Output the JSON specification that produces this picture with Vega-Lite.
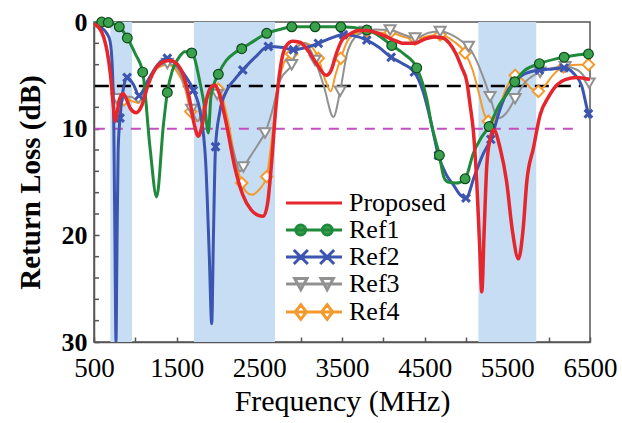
{
  "$schema": "https://vega.github.io/schema/vega-lite/v6.json",
  "width": 496,
  "height": 320,
  "autosize": {"type": "none"},
  "padding": {"left": 94, "top": 22, "right": 32, "bottom": 81},
  "background": "white",
  "config": {
    "view": {"stroke": "#555555", "strokeWidth": 1.5},
    "font": "Liberation Serif",
    "axis": {"domainColor": "#555555", "domainWidth": 1.5, "tickColor": "#555555", "tickWidth": 1.5, "grid": false, "labelFont": "Liberation Serif", "titleFont": "Liberation Serif", "labelColor": "black", "titleColor": "black", "labelOverlap": false}
  },
  "datasets": {
    "bands": [{"a": 698, "b": 960}, {"a": 1710, "b": 2690}, {"a": 5150, "b": 5850}],
    "refs": [{"v": 6, "x1": 510, "x2": 6380, "k": "a"}, {"v": 10, "x1": 510, "x2": 6380, "k": "b"}],
    "minor": [{"v": 2}, {"v": 4}, {"v": 6}, {"v": 8}, {"v": 12}, {"v": 14}, {"v": 16}, {"v": 18}, {"v": 22}, {"v": 24}, {"v": 26}, {"v": 28}],
    "curves": [
      {"s": "Proposed", "f": 500, "r": 0.2, "m": 0},
      {"s": "Proposed", "f": 560, "r": 0.5, "m": 0},
      {"s": "Proposed", "f": 620, "r": 1.5, "m": 0},
      {"s": "Proposed", "f": 660, "r": 2.8, "m": 0},
      {"s": "Proposed", "f": 700, "r": 5.0, "m": 0},
      {"s": "Proposed", "f": 730, "r": 7.5, "m": 0},
      {"s": "Proposed", "f": 755, "r": 9.3, "m": 0},
      {"s": "Proposed", "f": 780, "r": 8.5, "m": 0},
      {"s": "Proposed", "f": 810, "r": 7.2, "m": 0},
      {"s": "Proposed", "f": 850, "r": 6.7, "m": 0},
      {"s": "Proposed", "f": 890, "r": 7.2, "m": 0},
      {"s": "Proposed", "f": 940, "r": 8.1, "m": 0},
      {"s": "Proposed", "f": 1010, "r": 8.5, "m": 0},
      {"s": "Proposed", "f": 1080, "r": 7.8, "m": 0},
      {"s": "Proposed", "f": 1150, "r": 6.0, "m": 0},
      {"s": "Proposed", "f": 1250, "r": 4.3, "m": 0},
      {"s": "Proposed", "f": 1350, "r": 3.7, "m": 0},
      {"s": "Proposed", "f": 1420, "r": 3.6, "m": 0},
      {"s": "Proposed", "f": 1500, "r": 3.9, "m": 0},
      {"s": "Proposed", "f": 1580, "r": 5.0, "m": 0},
      {"s": "Proposed", "f": 1650, "r": 7.0, "m": 0},
      {"s": "Proposed", "f": 1710, "r": 9.5, "m": 0},
      {"s": "Proposed", "f": 1762, "r": 10.7, "m": 0},
      {"s": "Proposed", "f": 1810, "r": 9.6, "m": 0},
      {"s": "Proposed", "f": 1860, "r": 7.3, "m": 0},
      {"s": "Proposed", "f": 1915, "r": 6.1, "m": 0},
      {"s": "Proposed", "f": 1962, "r": 5.9, "m": 0},
      {"s": "Proposed", "f": 2010, "r": 6.6, "m": 0},
      {"s": "Proposed", "f": 2100, "r": 9.5, "m": 0},
      {"s": "Proposed", "f": 2200, "r": 13.5, "m": 0},
      {"s": "Proposed", "f": 2300, "r": 16.2, "m": 0},
      {"s": "Proposed", "f": 2400, "r": 17.6, "m": 0},
      {"s": "Proposed", "f": 2480, "r": 18.1, "m": 0},
      {"s": "Proposed", "f": 2550, "r": 18.2, "m": 0},
      {"s": "Proposed", "f": 2600, "r": 17.0, "m": 0},
      {"s": "Proposed", "f": 2650, "r": 13.0, "m": 0},
      {"s": "Proposed", "f": 2700, "r": 8.0, "m": 0},
      {"s": "Proposed", "f": 2760, "r": 4.0, "m": 0},
      {"s": "Proposed", "f": 2820, "r": 2.3, "m": 0},
      {"s": "Proposed", "f": 2900, "r": 1.8, "m": 0},
      {"s": "Proposed", "f": 2990, "r": 1.9, "m": 0},
      {"s": "Proposed", "f": 3100, "r": 2.8, "m": 0},
      {"s": "Proposed", "f": 3200, "r": 4.0, "m": 0},
      {"s": "Proposed", "f": 3310, "r": 5.0, "m": 0},
      {"s": "Proposed", "f": 3370, "r": 4.5, "m": 0},
      {"s": "Proposed", "f": 3430, "r": 3.0, "m": 0},
      {"s": "Proposed", "f": 3500, "r": 1.7, "m": 0},
      {"s": "Proposed", "f": 3600, "r": 1.1, "m": 0},
      {"s": "Proposed", "f": 3700, "r": 0.8, "m": 0},
      {"s": "Proposed", "f": 3800, "r": 0.8, "m": 0},
      {"s": "Proposed", "f": 3950, "r": 1.1, "m": 0},
      {"s": "Proposed", "f": 4100, "r": 1.6, "m": 0},
      {"s": "Proposed", "f": 4250, "r": 2.0, "m": 0},
      {"s": "Proposed", "f": 4380, "r": 2.0, "m": 0},
      {"s": "Proposed", "f": 4500, "r": 1.6, "m": 0},
      {"s": "Proposed", "f": 4620, "r": 1.4, "m": 0},
      {"s": "Proposed", "f": 4720, "r": 1.5, "m": 0},
      {"s": "Proposed", "f": 4800, "r": 2.0, "m": 0},
      {"s": "Proposed", "f": 4880, "r": 3.0, "m": 0},
      {"s": "Proposed", "f": 4950, "r": 4.3, "m": 0},
      {"s": "Proposed", "f": 5010, "r": 5.6, "m": 0},
      {"s": "Proposed", "f": 5050, "r": 7.8, "m": 0},
      {"s": "Proposed", "f": 5090, "r": 10.3, "m": 0},
      {"s": "Proposed", "f": 5130, "r": 15.0, "m": 0},
      {"s": "Proposed", "f": 5165, "r": 21.0, "m": 0},
      {"s": "Proposed", "f": 5191, "r": 25.3, "m": 0},
      {"s": "Proposed", "f": 5220, "r": 19.5, "m": 0},
      {"s": "Proposed", "f": 5252, "r": 13.4, "m": 0},
      {"s": "Proposed", "f": 5291, "r": 11.0, "m": 0},
      {"s": "Proposed", "f": 5335, "r": 10.1, "m": 0},
      {"s": "Proposed", "f": 5412, "r": 11.8, "m": 0},
      {"s": "Proposed", "f": 5492, "r": 15.0, "m": 0},
      {"s": "Proposed", "f": 5560, "r": 19.5, "m": 0},
      {"s": "Proposed", "f": 5634, "r": 22.2, "m": 0},
      {"s": "Proposed", "f": 5690, "r": 19.5, "m": 0},
      {"s": "Proposed", "f": 5735, "r": 15.0, "m": 0},
      {"s": "Proposed", "f": 5816, "r": 11.8, "m": 0},
      {"s": "Proposed", "f": 5897, "r": 8.7, "m": 0},
      {"s": "Proposed", "f": 6000, "r": 7.0, "m": 0},
      {"s": "Proposed", "f": 6099, "r": 5.9, "m": 0},
      {"s": "Proposed", "f": 6200, "r": 5.4, "m": 0},
      {"s": "Proposed", "f": 6341, "r": 5.2, "m": 0},
      {"s": "Proposed", "f": 6500, "r": 5.4, "m": 0},

      {"s": "Ref1", "f": 500, "r": 0.1, "m": 0},
      {"s": "Ref1", "f": 593, "r": 0.0, "m": 1},
      {"s": "Ref1", "f": 673, "r": 0.05, "m": 1},
      {"s": "Ref1", "f": 806, "r": 0.45, "m": 1},
      {"s": "Ref1", "f": 903, "r": 1.5, "m": 1},
      {"s": "Ref1", "f": 1000, "r": 3.0, "m": 0},
      {"s": "Ref1", "f": 1089, "r": 4.7, "m": 1},
      {"s": "Ref1", "f": 1178, "r": 11.8, "m": 0},
      {"s": "Ref1", "f": 1258, "r": 16.4, "m": 0},
      {"s": "Ref1", "f": 1339, "r": 9.7, "m": 0},
      {"s": "Ref1", "f": 1387, "r": 6.6, "m": 1},
      {"s": "Ref1", "f": 1450, "r": 4.5, "m": 0},
      {"s": "Ref1", "f": 1530, "r": 3.3, "m": 0},
      {"s": "Ref1", "f": 1600, "r": 2.8, "m": 0},
      {"s": "Ref1", "f": 1682, "r": 2.9, "m": 1},
      {"s": "Ref1", "f": 1783, "r": 5.7, "m": 0},
      {"s": "Ref1", "f": 1843, "r": 8.2, "m": 0},
      {"s": "Ref1", "f": 1883, "r": 10.4, "m": 0},
      {"s": "Ref1", "f": 1916, "r": 6.9, "m": 0},
      {"s": "Ref1", "f": 2004, "r": 4.9, "m": 1},
      {"s": "Ref1", "f": 2100, "r": 3.6, "m": 0},
      {"s": "Ref1", "f": 2200, "r": 2.9, "m": 0},
      {"s": "Ref1", "f": 2287, "r": 2.5, "m": 1},
      {"s": "Ref1", "f": 2450, "r": 1.7, "m": 0},
      {"s": "Ref1", "f": 2589, "r": 1.06, "m": 1},
      {"s": "Ref1", "f": 2750, "r": 0.7, "m": 0},
      {"s": "Ref1", "f": 2892, "r": 0.45, "m": 1},
      {"s": "Ref1", "f": 3174, "r": 0.45, "m": 1},
      {"s": "Ref1", "f": 3485, "r": 0.45, "m": 1},
      {"s": "Ref1", "f": 3800, "r": 0.75, "m": 1},
      {"s": "Ref1", "f": 3950, "r": 1.3, "m": 0},
      {"s": "Ref1", "f": 4102, "r": 2.2, "m": 1},
      {"s": "Ref1", "f": 4250, "r": 3.0, "m": 0},
      {"s": "Ref1", "f": 4404, "r": 4.3, "m": 1},
      {"s": "Ref1", "f": 4525, "r": 7.2, "m": 0},
      {"s": "Ref1", "f": 4585, "r": 9.7, "m": 0},
      {"s": "Ref1", "f": 4678, "r": 12.5, "m": 1},
      {"s": "Ref1", "f": 4730, "r": 14.5, "m": 0},
      {"s": "Ref1", "f": 4780, "r": 15.0, "m": 0},
      {"s": "Ref1", "f": 4880, "r": 15.1, "m": 0},
      {"s": "Ref1", "f": 4989, "r": 14.7, "m": 1},
      {"s": "Ref1", "f": 5089, "r": 12.3, "m": 0},
      {"s": "Ref1", "f": 5180, "r": 10.9, "m": 0},
      {"s": "Ref1", "f": 5280, "r": 9.8, "m": 1},
      {"s": "Ref1", "f": 5400, "r": 7.8, "m": 0},
      {"s": "Ref1", "f": 5492, "r": 6.8, "m": 0},
      {"s": "Ref1", "f": 5590, "r": 5.6, "m": 1},
      {"s": "Ref1", "f": 5700, "r": 4.6, "m": 0},
      {"s": "Ref1", "f": 5888, "r": 3.9, "m": 1},
      {"s": "Ref1", "f": 6187, "r": 3.3, "m": 1},
      {"s": "Ref1", "f": 6481, "r": 3.0, "m": 1},
      {"s": "Ref1", "f": 6500, "r": 3.0, "m": 0},

      {"s": "Ref2", "f": 500, "r": 0.2, "m": 0},
      {"s": "Ref2", "f": 580, "r": 0.5, "m": 0},
      {"s": "Ref2", "f": 650, "r": 1.0, "m": 0},
      {"s": "Ref2", "f": 694, "r": 1.8, "m": 0},
      {"s": "Ref2", "f": 720, "r": 4.0, "m": 0},
      {"s": "Ref2", "f": 740, "r": 10.0, "m": 0},
      {"s": "Ref2", "f": 755, "r": 22.0, "m": 0},
      {"s": "Ref2", "f": 766, "r": 30.0, "m": 0},
      {"s": "Ref2", "f": 777, "r": 22.0, "m": 0},
      {"s": "Ref2", "f": 792, "r": 12.0, "m": 0},
      {"s": "Ref2", "f": 815, "r": 9.0, "m": 1},
      {"s": "Ref2", "f": 850, "r": 6.5, "m": 0},
      {"s": "Ref2", "f": 900, "r": 5.2, "m": 1},
      {"s": "Ref2", "f": 980, "r": 5.9, "m": 0},
      {"s": "Ref2", "f": 1045, "r": 6.9, "m": 1},
      {"s": "Ref2", "f": 1150, "r": 5.5, "m": 0},
      {"s": "Ref2", "f": 1270, "r": 4.0, "m": 0},
      {"s": "Ref2", "f": 1387, "r": 3.4, "m": 1},
      {"s": "Ref2", "f": 1500, "r": 4.0, "m": 0},
      {"s": "Ref2", "f": 1600, "r": 5.0, "m": 0},
      {"s": "Ref2", "f": 1702, "r": 6.4, "m": 1},
      {"s": "Ref2", "f": 1783, "r": 8.4, "m": 0},
      {"s": "Ref2", "f": 1850, "r": 13.0, "m": 0},
      {"s": "Ref2", "f": 1895, "r": 22.0, "m": 0},
      {"s": "Ref2", "f": 1924, "r": 28.3, "m": 0},
      {"s": "Ref2", "f": 1945, "r": 20.0, "m": 0},
      {"s": "Ref2", "f": 1970, "r": 11.7, "m": 1},
      {"s": "Ref2", "f": 2020, "r": 8.5, "m": 0},
      {"s": "Ref2", "f": 2100, "r": 6.5, "m": 0},
      {"s": "Ref2", "f": 2200, "r": 5.4, "m": 0},
      {"s": "Ref2", "f": 2300, "r": 4.5, "m": 1},
      {"s": "Ref2", "f": 2450, "r": 3.3, "m": 0},
      {"s": "Ref2", "f": 2609, "r": 2.3, "m": 1},
      {"s": "Ref2", "f": 2780, "r": 2.4, "m": 0},
      {"s": "Ref2", "f": 2912, "r": 2.6, "m": 1},
      {"s": "Ref2", "f": 3060, "r": 2.4, "m": 0},
      {"s": "Ref2", "f": 3214, "r": 2.0, "m": 1},
      {"s": "Ref2", "f": 3370, "r": 1.5, "m": 0},
      {"s": "Ref2", "f": 3517, "r": 1.2, "m": 1},
      {"s": "Ref2", "f": 3650, "r": 1.3, "m": 0},
      {"s": "Ref2", "f": 3800, "r": 1.7, "m": 1},
      {"s": "Ref2", "f": 3950, "r": 2.4, "m": 0},
      {"s": "Ref2", "f": 4095, "r": 3.3, "m": 1},
      {"s": "Ref2", "f": 4230, "r": 3.9, "m": 0},
      {"s": "Ref2", "f": 4375, "r": 4.7, "m": 1},
      {"s": "Ref2", "f": 4480, "r": 6.5, "m": 0},
      {"s": "Ref2", "f": 4580, "r": 9.5, "m": 0},
      {"s": "Ref2", "f": 4666, "r": 12.5, "m": 1},
      {"s": "Ref2", "f": 4760, "r": 14.3, "m": 0},
      {"s": "Ref2", "f": 4850, "r": 15.3, "m": 0},
      {"s": "Ref2", "f": 4930, "r": 16.2, "m": 0},
      {"s": "Ref2", "f": 5000, "r": 16.5, "m": 1},
      {"s": "Ref2", "f": 5100, "r": 14.5, "m": 0},
      {"s": "Ref2", "f": 5200, "r": 12.5, "m": 0},
      {"s": "Ref2", "f": 5300, "r": 11.0, "m": 1},
      {"s": "Ref2", "f": 5420, "r": 8.0, "m": 0},
      {"s": "Ref2", "f": 5500, "r": 6.5, "m": 0},
      {"s": "Ref2", "f": 5590, "r": 5.6, "m": 1},
      {"s": "Ref2", "f": 5700, "r": 4.9, "m": 0},
      {"s": "Ref2", "f": 5888, "r": 4.5, "m": 1},
      {"s": "Ref2", "f": 6050, "r": 4.4, "m": 0},
      {"s": "Ref2", "f": 6187, "r": 4.3, "m": 1},
      {"s": "Ref2", "f": 6300, "r": 4.8, "m": 0},
      {"s": "Ref2", "f": 6400, "r": 6.0, "m": 0},
      {"s": "Ref2", "f": 6481, "r": 8.6, "m": 1},
      {"s": "Ref2", "f": 6500, "r": 9.0, "m": 0},

      {"s": "Ref3", "f": 500, "r": 0.3, "m": 0},
      {"s": "Ref3", "f": 600, "r": 1.0, "m": 0},
      {"s": "Ref3", "f": 680, "r": 3.5, "m": 0},
      {"s": "Ref3", "f": 740, "r": 6.5, "m": 0},
      {"s": "Ref3", "f": 775, "r": 7.2, "m": 1},
      {"s": "Ref3", "f": 820, "r": 7.8, "m": 0},
      {"s": "Ref3", "f": 870, "r": 7.0, "m": 0},
      {"s": "Ref3", "f": 950, "r": 7.0, "m": 0},
      {"s": "Ref3", "f": 1040, "r": 7.5, "m": 0},
      {"s": "Ref3", "f": 1150, "r": 5.5, "m": 0},
      {"s": "Ref3", "f": 1270, "r": 4.2, "m": 0},
      {"s": "Ref3", "f": 1387, "r": 3.9, "m": 1},
      {"s": "Ref3", "f": 1500, "r": 4.3, "m": 0},
      {"s": "Ref3", "f": 1600, "r": 6.0, "m": 0},
      {"s": "Ref3", "f": 1680, "r": 8.2, "m": 1},
      {"s": "Ref3", "f": 1760, "r": 9.3, "m": 0},
      {"s": "Ref3", "f": 1830, "r": 8.0, "m": 0},
      {"s": "Ref3", "f": 1900, "r": 6.6, "m": 0},
      {"s": "Ref3", "f": 1990, "r": 6.8, "m": 1},
      {"s": "Ref3", "f": 2100, "r": 9.5, "m": 0},
      {"s": "Ref3", "f": 2200, "r": 12.5, "m": 0},
      {"s": "Ref3", "f": 2267, "r": 14.0, "m": 0},
      {"s": "Ref3", "f": 2307, "r": 13.6, "m": 1},
      {"s": "Ref3", "f": 2400, "r": 12.5, "m": 0},
      {"s": "Ref3", "f": 2500, "r": 11.3, "m": 0},
      {"s": "Ref3", "f": 2569, "r": 10.4, "m": 1},
      {"s": "Ref3", "f": 2650, "r": 8.5, "m": 0},
      {"s": "Ref3", "f": 2750, "r": 5.5, "m": 0},
      {"s": "Ref3", "f": 2892, "r": 4.0, "m": 1},
      {"s": "Ref3", "f": 2980, "r": 2.2, "m": 0},
      {"s": "Ref3", "f": 3050, "r": 2.0, "m": 0},
      {"s": "Ref3", "f": 3174, "r": 3.6, "m": 1},
      {"s": "Ref3", "f": 3280, "r": 6.0, "m": 0},
      {"s": "Ref3", "f": 3396, "r": 8.9, "m": 0},
      {"s": "Ref3", "f": 3477, "r": 6.5, "m": 1},
      {"s": "Ref3", "f": 3560, "r": 3.0, "m": 0},
      {"s": "Ref3", "f": 3650, "r": 1.5, "m": 0},
      {"s": "Ref3", "f": 3780, "r": 0.9, "m": 1},
      {"s": "Ref3", "f": 3900, "r": 0.7, "m": 0},
      {"s": "Ref3", "f": 4082, "r": 0.75, "m": 1},
      {"s": "Ref3", "f": 4250, "r": 1.2, "m": 0},
      {"s": "Ref3", "f": 4384, "r": 1.5, "m": 1},
      {"s": "Ref3", "f": 4550, "r": 1.0, "m": 0},
      {"s": "Ref3", "f": 4687, "r": 0.9, "m": 1},
      {"s": "Ref3", "f": 4850, "r": 1.3, "m": 0},
      {"s": "Ref3", "f": 4950, "r": 1.8, "m": 0},
      {"s": "Ref3", "f": 5030, "r": 2.3, "m": 1},
      {"s": "Ref3", "f": 5120, "r": 3.5, "m": 0},
      {"s": "Ref3", "f": 5200, "r": 5.0, "m": 0},
      {"s": "Ref3", "f": 5291, "r": 7.0, "m": 1},
      {"s": "Ref3", "f": 5350, "r": 8.5, "m": 0},
      {"s": "Ref3", "f": 5400, "r": 9.0, "m": 0},
      {"s": "Ref3", "f": 5480, "r": 8.6, "m": 0},
      {"s": "Ref3", "f": 5594, "r": 7.2, "m": 1},
      {"s": "Ref3", "f": 5700, "r": 5.8, "m": 0},
      {"s": "Ref3", "f": 5897, "r": 4.7, "m": 1},
      {"s": "Ref3", "f": 6050, "r": 4.3, "m": 0},
      {"s": "Ref3", "f": 6199, "r": 4.2, "m": 1},
      {"s": "Ref3", "f": 6350, "r": 4.5, "m": 0},
      {"s": "Ref3", "f": 6490, "r": 5.75, "m": 1},

      {"s": "Ref4", "f": 500, "r": 0.3, "m": 0},
      {"s": "Ref4", "f": 600, "r": 1.0, "m": 0},
      {"s": "Ref4", "f": 680, "r": 3.5, "m": 0},
      {"s": "Ref4", "f": 740, "r": 6.5, "m": 0},
      {"s": "Ref4", "f": 790, "r": 7.8, "m": 0},
      {"s": "Ref4", "f": 863, "r": 7.3, "m": 1},
      {"s": "Ref4", "f": 950, "r": 7.4, "m": 0},
      {"s": "Ref4", "f": 1040, "r": 7.6, "m": 0},
      {"s": "Ref4", "f": 1150, "r": 5.8, "m": 0},
      {"s": "Ref4", "f": 1270, "r": 4.3, "m": 0},
      {"s": "Ref4", "f": 1390, "r": 4.0, "m": 0},
      {"s": "Ref4", "f": 1500, "r": 4.6, "m": 0},
      {"s": "Ref4", "f": 1600, "r": 6.2, "m": 0},
      {"s": "Ref4", "f": 1670, "r": 8.4, "m": 1},
      {"s": "Ref4", "f": 1750, "r": 9.3, "m": 0},
      {"s": "Ref4", "f": 1830, "r": 7.8, "m": 0},
      {"s": "Ref4", "f": 1920, "r": 6.6, "m": 0},
      {"s": "Ref4", "f": 2004, "r": 6.3, "m": 1},
      {"s": "Ref4", "f": 2100, "r": 8.5, "m": 0},
      {"s": "Ref4", "f": 2200, "r": 12.5, "m": 0},
      {"s": "Ref4", "f": 2287, "r": 15.1, "m": 1},
      {"s": "Ref4", "f": 2340, "r": 15.9, "m": 0},
      {"s": "Ref4", "f": 2408, "r": 16.2, "m": 0},
      {"s": "Ref4", "f": 2500, "r": 15.7, "m": 0},
      {"s": "Ref4", "f": 2589, "r": 14.5, "m": 1},
      {"s": "Ref4", "f": 2650, "r": 11.0, "m": 0},
      {"s": "Ref4", "f": 2720, "r": 6.5, "m": 0},
      {"s": "Ref4", "f": 2800, "r": 3.8, "m": 0},
      {"s": "Ref4", "f": 2892, "r": 3.0, "m": 1},
      {"s": "Ref4", "f": 2980, "r": 2.0, "m": 0},
      {"s": "Ref4", "f": 3060, "r": 2.0, "m": 0},
      {"s": "Ref4", "f": 3214, "r": 3.4, "m": 1},
      {"s": "Ref4", "f": 3300, "r": 5.5, "m": 0},
      {"s": "Ref4", "f": 3364, "r": 6.5, "m": 0},
      {"s": "Ref4", "f": 3420, "r": 5.0, "m": 0},
      {"s": "Ref4", "f": 3485, "r": 3.4, "m": 1},
      {"s": "Ref4", "f": 3580, "r": 1.6, "m": 0},
      {"s": "Ref4", "f": 3700, "r": 1.0, "m": 0},
      {"s": "Ref4", "f": 3800, "r": 0.9, "m": 1},
      {"s": "Ref4", "f": 3950, "r": 1.0, "m": 0},
      {"s": "Ref4", "f": 4082, "r": 1.0, "m": 1},
      {"s": "Ref4", "f": 4250, "r": 1.4, "m": 0},
      {"s": "Ref4", "f": 4384, "r": 1.6, "m": 1},
      {"s": "Ref4", "f": 4550, "r": 1.3, "m": 0},
      {"s": "Ref4", "f": 4687, "r": 1.2, "m": 1},
      {"s": "Ref4", "f": 4850, "r": 1.8, "m": 0},
      {"s": "Ref4", "f": 4989, "r": 2.9, "m": 1},
      {"s": "Ref4", "f": 5080, "r": 4.5, "m": 0},
      {"s": "Ref4", "f": 5160, "r": 6.8, "m": 0},
      {"s": "Ref4", "f": 5220, "r": 8.6, "m": 0},
      {"s": "Ref4", "f": 5271, "r": 9.3, "m": 1},
      {"s": "Ref4", "f": 5320, "r": 9.4, "m": 0},
      {"s": "Ref4", "f": 5400, "r": 8.0, "m": 0},
      {"s": "Ref4", "f": 5500, "r": 6.0, "m": 0},
      {"s": "Ref4", "f": 5594, "r": 5.0, "m": 1},
      {"s": "Ref4", "f": 5700, "r": 5.5, "m": 0},
      {"s": "Ref4", "f": 5800, "r": 6.3, "m": 0},
      {"s": "Ref4", "f": 5876, "r": 6.5, "m": 1},
      {"s": "Ref4", "f": 5950, "r": 6.0, "m": 0},
      {"s": "Ref4", "f": 6050, "r": 5.0, "m": 0},
      {"s": "Ref4", "f": 6179, "r": 4.2, "m": 1},
      {"s": "Ref4", "f": 6350, "r": 4.0, "m": 0},
      {"s": "Ref4", "f": 6481, "r": 4.0, "m": 1},
      {"s": "Ref4", "f": 6500, "r": 4.0, "m": 0}
    ]
  },
  "layer": [
    {
      "data": {"name": "bands"},
      "mark": {"type": "rect", "color": "#c7ddf3"},
      "encoding": {
        "x": {"field": "a", "type": "quantitative",
          "scale": {"domain": [500, 6500], "nice": false, "zero": false},
          "axis": {"values": [500, 1000, 1500, 2000, 2500, 3000, 3500, 4000, 4500, 5000, 5500, 6000, 6500],
            "labelExpr": "(datum.value - 500) % 1000 === 0 ? datum.label : ''",
            "format": "d", "tickSize": -5, "labelPadding": 18, "labelFontSize": 27, "labelFlush": false, "labelOverlap": false,
            "title": "Frequency (MHz)", "titleFontSize": 30, "titleFontWeight": "normal", "titlePadding": 5}},
        "x2": {"field": "b"}
      }
    },
    {
      "data": {"name": "minor"},
      "mark": {"type": "rule", "color": "#555555", "strokeWidth": 1.5},
      "encoding": {
        "y": {"field": "v", "type": "quantitative"},
        "x": {"datum": 500, "type": "quantitative"},
        "x2": {"datum": 560}
      }
    },
    {
      "data": {"name": "refs"},
      "transform": [{"filter": "datum.k === 'a'"}],
      "mark": {"type": "rule", "color": "black", "strokeWidth": 2.5, "strokeDash": [14, 8]},
      "encoding": {
        "y": {"field": "v", "type": "quantitative",
          "scale": {"domain": [0, 30], "reverse": true, "nice": false, "zero": false},
          "axis": {"values": [0, 10, 20, 30],
            "tickSize": -5, "labelPadding": 12, "labelFontSize": 26, "labelFontWeight": "bold", "labelFlush": false, "labelOverlap": false,
            "title": "Return Loss (dB)", "titleFontSize": 29, "titleFontWeight": "bold", "titlePadding": 16}},
        "x": {"field": "x1", "type": "quantitative"},
        "x2": {"field": "x2"}
      }
    },
    {
      "data": {"name": "refs"},
      "transform": [{"filter": "datum.k === 'b'"}],
      "mark": {"type": "rule", "color": "#c24fc0", "strokeWidth": 2, "strokeDash": [10, 8]},
      "encoding": {
        "y": {"field": "v", "type": "quantitative"},
        "x": {"field": "x1", "type": "quantitative"},
        "x2": {"field": "x2"}
      }
    },
    {
      "data": {"name": "curves"},
      "transform": [{"filter": "datum.s === 'Ref4'"}],
      "mark": {"type": "line", "color": "#f39a2c", "strokeWidth": 2, "interpolate": "monotone", "clip": true},
      "encoding": {"x": {"field": "f", "type": "quantitative"}, "y": {"field": "r", "type": "quantitative"}}
    },
    {
      "data": {"name": "curves"},
      "transform": [{"filter": "datum.s === 'Ref4' && datum.m === 1"}],
      "mark": {"type": "point", "shape": "diamond", "filled": true, "fill": "white", "stroke": "#f39a2c", "strokeWidth": 2, "size": 130, "opacity": 1},
      "encoding": {"x": {"field": "f", "type": "quantitative"}, "y": {"field": "r", "type": "quantitative"}}
    },
    {
      "data": {"name": "curves"},
      "transform": [{"filter": "datum.s === 'Ref3'"}],
      "mark": {"type": "line", "color": "#919191", "strokeWidth": 2, "interpolate": "monotone", "clip": true},
      "encoding": {"x": {"field": "f", "type": "quantitative"}, "y": {"field": "r", "type": "quantitative"}}
    },
    {
      "data": {"name": "curves"},
      "transform": [{"filter": "datum.s === 'Ref3' && datum.m === 1"}],
      "mark": {"type": "point", "shape": "triangle-down", "filled": true, "fill": "white", "stroke": "#919191", "strokeWidth": 2, "size": 120, "opacity": 1},
      "encoding": {"x": {"field": "f", "type": "quantitative"}, "y": {"field": "r", "type": "quantitative"}}
    },
    {
      "data": {"name": "curves"},
      "transform": [{"filter": "datum.s === 'Ref2'"}],
      "mark": {"type": "line", "color": "#3b55b0", "strokeWidth": 3, "interpolate": "monotone", "clip": true},
      "encoding": {"x": {"field": "f", "type": "quantitative"}, "y": {"field": "r", "type": "quantitative"}}
    },
    {
      "data": {"name": "curves"},
      "transform": [{"filter": "datum.s === 'Ref2' && datum.m === 1"}],
      "mark": {"type": "point", "shape": "M-1,-1L1,1M-1,1L1,-1", "filled": false, "stroke": "#3b55b0", "strokeWidth": 3, "size": 60, "opacity": 1},
      "encoding": {"x": {"field": "f", "type": "quantitative"}, "y": {"field": "r", "type": "quantitative"}}
    },
    {
      "data": {"name": "curves"},
      "transform": [{"filter": "datum.s === 'Ref1'"}],
      "mark": {"type": "line", "color": "#1f8a3b", "strokeWidth": 3, "interpolate": "monotone", "clip": true},
      "encoding": {"x": {"field": "f", "type": "quantitative"}, "y": {"field": "r", "type": "quantitative"}}
    },
    {
      "data": {"name": "curves"},
      "transform": [{"filter": "datum.s === 'Ref1' && datum.m === 1"}],
      "mark": {"type": "point", "shape": "circle", "filled": true, "fill": "#3aa24d", "stroke": "#0e4a1c", "strokeWidth": 1.2, "size": 95, "opacity": 1},
      "encoding": {"x": {"field": "f", "type": "quantitative"}, "y": {"field": "r", "type": "quantitative"}}
    },
    {
      "data": {"name": "curves"},
      "transform": [{"filter": "datum.s === 'Proposed'"}],
      "mark": {"type": "line", "color": "#e5262d", "strokeWidth": 3.5, "interpolate": "monotone", "clip": true},
      "encoding": {"x": {"field": "f", "type": "quantitative"}, "y": {"field": "r", "type": "quantitative"}}
    },
    {
      "data": {"name": "curves"},
      "transform": [{"filter": "datum.f === 500"}],
      "mark": {"type": "point", "opacity": 0, "filled": true, "strokeWidth": 3},
      "encoding": {
        "x": {"field": "f", "type": "quantitative"},
        "y": {"field": "r", "type": "quantitative"},
        "fill": {"field": "s", "type": "nominal",
          "scale": {"domain": ["Proposed", "Ref1", "Ref2", "Ref3", "Ref4"], "range": ["transparent", "#3aa24d", "transparent", "white", "white"]}},
        "stroke": {"field": "s", "type": "nominal",
          "scale": {"domain": ["Proposed", "Ref1", "Ref2", "Ref3", "Ref4"], "range": ["#e5262d", "#1f8a3b", "#3b55b0", "#919191", "#f39a2c"]}},
        "shape": {"field": "s", "type": "nominal",
          "scale": {"domain": ["Proposed", "Ref1", "Ref2", "Ref3", "Ref4"],
            "range": [
              "M-5.6,0H5.6",
              "M-5.6,0H5.6M-1.66,0A1,1 0 1,0 -3.66,0A1,1 0 1,0 -1.66,0ZM3.66,0A1,1 0 1,0 1.66,0A1,1 0 1,0 3.66,0Z",
              "M-5.6,0H5.6M-4.03,-1.4L-1.23,1.4M-4.03,1.4L-1.23,-1.4M1.23,-1.4L4.03,1.4M1.23,1.4L4.03,-1.4",
              "M-5.6,0H5.6M-3.86,-1.12L-1.4,-1.12L-2.63,1.12ZM1.4,-1.12L3.86,-1.12L2.63,1.12Z",
              "M-5.6,0H5.6M-2.63,-1.46L-1.51,0L-2.63,1.46L-3.75,0ZM2.63,-1.46L3.75,0L2.63,1.46L1.51,0Z"
            ]},
          "legend": {
            "orient": "none", "legendX": 207, "legendY": 168, "direction": "vertical", "title": null,
            "padding": 0, "rowPadding": 1, "symbolSize": 100, "symbolOpacity": 1, "symbolStrokeWidth": 3,
            "labelFont": "Liberation Serif", "labelFontSize": 26, "labelColor": "black", "labelOffset": 22
          }}
      }
    }
  ]
}
